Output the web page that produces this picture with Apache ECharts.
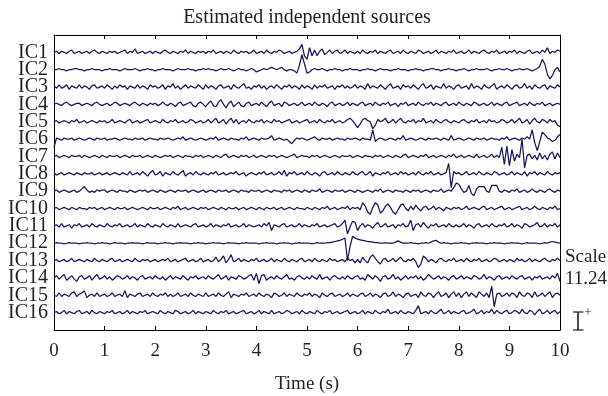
<!DOCTYPE html>
<html><head><meta charset="utf-8">
<script src="https://cdn.jsdelivr.net/npm/echarts@6/dist/echarts.min.js"></script>
<style>html,body{margin:0;padding:0;background:#fff}#c{width:608px;height:396px}</style>
</head><body><div id="c"></div>
<script>
// ---- data ----
const channelNames = ['IC1','IC2','IC3','IC4','IC5','IC6','IC7','IC8','IC9','IC10','IC11','IC12','IC13','IC14','IC15','IC16'];
const sampleStep = 0.05; // seconds between samples, 0 .. 10 s
const titleText = 'Estimated independent sources';
const xName = 'Time (s)';
const scaleLabel = ['Scale', '11.24'];

const IC1 = [0,1,-1,1,0,-1,1,2,-1,0,1,-1,0,1,-1,1,2,0,-1,1,
0,-1,1,0,1,-1,0,1,2,-1,1,0,3,-1,0,1,-1,0,1,-1,
1,0,-1,1,2,0,-1,1,0,-1,1,0,2,-1,1,0,-1,1,0,1,
-1,1,0,2,-1,0,1,-1,1,0,-1,2,0,-1,1,0,1,-1,0,2,
-1,0,1,-1,2,0,-1,1,0,2,1,-1,0,1,-1,0,1,3,7,-3,
-6,4,-3,2,-3,1,3,-2,0,2,-1,1,2,-1,0,2,-1,1,0,-1,
1,-1,2,0,-1,1,0,2,-1,1,0,-1,1,2,-1,0,1,-1,2,0,
-1,1,0,-1,2,1,-1,0,1,-1,0,2,-1,1,0,-1,1,0,2,-1,
0,1,-1,0,2,-1,1,0,-1,1,2,0,-1,1,0,2,-1,0,1,-1,
1,0,2,-1,1,0,-1,1,2,-1,0,1,-1,2,0,4,-1,1,0,2,1];
const IC2 = [0,0,1,0,0,-1,0,0,1,1,0,0,-1,0,0,1,0,0,0,-1,
0,0,1,0,0,0,-1,0,1,0,0,0,1,0,-1,0,0,1,0,0,
-1,0,0,1,0,0,0,-1,0,1,0,0,0,1,0,0,-1,0,0,1,
0,1,0,0,-1,0,1,0,0,1,0,-1,0,1,0,0,-1,0,1,0,
-2,-1,0,1,0,1,2,1,0,1,2,0,-1,0,0,-1,-3,4,13,5,
-3,-2,0,1,0,0,1,0,-1,0,0,1,0,0,-1,0,0,1,0,0,
0,-1,0,0,1,0,0,-1,0,1,0,0,0,-1,0,0,1,0,0,0,
-1,0,0,1,0,0,-1,0,0,1,1,0,0,-1,0,0,1,0,0,-1,
0,0,1,0,-1,0,0,1,0,0,0,1,0,-1,0,0,1,0,0,1,
0,-1,0,0,1,0,0,1,0,-1,0,1,3,9,5,-4,-8,-5,0,2,-2];
const IC3 = [1,-1,2,-1,0,2,-2,1,0,-1,2,-1,1,0,-2,1,2,-1,0,1,
-1,2,0,-2,1,-1,2,0,1,-2,1,0,-1,2,-1,1,0,-2,2,0,
1,-1,0,2,-2,1,0,3,-1,1,-2,0,2,-1,1,0,-1,2,0,-2,
2,-1,1,0,-2,1,2,-1,0,1,-2,2,0,-1,1,3,-1,0,-2,1,
0,2,-1,1,-2,0,1,-1,2,0,-2,1,0,2,-1,1,0,-2,2,-1,
1,0,-2,2,-1,1,0,2,-1,0,1,-2,1,0,2,-1,1,-1,0,2,
-1,1,0,-2,3,-1,1,0,-1,2,0,-2,1,3,-1,0,1,-2,2,0,
1,-1,2,0,-2,1,3,-1,0,2,-2,1,0,-1,3,-1,1,0,-2,1,
2,-1,0,1,-2,3,-1,1,0,-2,2,0,-1,1,3,-2,0,1,-1,2,
0,-2,1,2,-1,0,3,-1,1,-2,2,0,-1,1,2,-2,1,0,-1,2,0];
const IC4 = [0,1,0,-1,1,2,0,-1,0,1,1,-1,0,1,0,-1,1,2,0,-1,
0,1,-1,0,2,1,-1,0,1,0,-1,1,2,0,-1,1,0,-1,1,0,
1,-1,0,2,0,-1,1,0,-2,1,2,-1,0,1,2,-1,-2,1,2,0,
-2,1,3,-1,-2,2,4,0,-3,1,3,-2,0,2,-1,-2,1,2,-1,0,
1,-1,2,0,-2,1,3,-1,0,1,-2,2,1,-1,0,1,-1,0,2,-1,
0,1,-1,2,0,-1,1,0,-2,1,2,-1,0,1,-1,0,2,-1,1,0,
-1,1,2,-1,0,1,-1,2,0,-1,1,0,2,-1,0,1,-2,1,0,2,
-1,0,1,-1,2,0,-1,1,0,2,-1,1,0,-1,1,2,-1,0,1,-1,
2,0,-1,1,0,-1,2,1,-1,0,1,-1,0,2,-1,1,0,-1,1,2,
-1,0,1,2,-1,0,1,-1,2,0,-1,1,0,2,-1,0,1,-1,0,1,0];
const IC5 = [0,1,-1,0,1,0,-1,1,0,2,-1,0,1,-1,0,1,0,-1,1,0,
1,-1,0,2,-1,0,1,0,-1,1,2,-1,0,1,-1,0,1,2,-1,0,
1,0,-1,2,0,-1,1,0,2,-1,0,1,-1,0,2,1,-1,0,1,-1,
0,2,-1,1,3,-1,0,2,-2,1,3,-1,2,-2,0,1,-1,2,0,-1,
1,0,2,-1,1,0,-1,2,0,1,-1,0,1,2,-1,0,1,-1,0,1,
2,-1,0,1,-1,2,0,-1,1,0,2,-1,0,1,-1,0,2,3,1,-2,
-5,-2,2,3,1,0,-6,-3,2,0,1,3,-1,0,2,-1,1,3,0,-1,
1,0,2,-1,1,0,3,-1,0,1,-1,2,0,-1,1,2,0,-1,1,0,
-1,1,2,0,-1,1,0,2,-1,0,1,-1,2,0,1,-1,0,2,1,-1,
0,2,-1,1,3,-1,0,2,-2,1,3,0,-1,2,1,-1,2,0,1,-3,-4];
const IC6 = [-7,1,0,-1,1,0,0,1,-1,0,1,0,-1,0,1,0,-1,1,0,0,
1,-1,0,0,1,0,-1,0,1,0,0,-1,1,0,0,1,-1,0,1,0,
0,-1,1,0,0,1,0,-1,0,1,0,2,-1,0,1,0,-1,0,1,0,
-1,0,1,0,2,-1,0,1,0,-1,1,0,0,-1,1,0,2,-1,0,1,
0,-1,1,0,0,1,3,-1,0,1,0,-1,0,-2,-4,-1,1,0,1,0,
-1,0,1,2,0,-1,1,0,0,1,-1,0,1,0,0,-1,1,0,0,1,
0,-1,1,0,0,-1,8,-2,0,1,0,-1,0,1,0,-1,1,0,3,-1,
0,1,0,-1,0,1,0,-1,1,0,0,1,0,-1,1,0,-1,3,-1,0,
1,0,-1,0,1,0,-1,1,0,0,1,-1,0,1,0,0,-1,1,0,2,
-1,0,1,0,-1,1,0,2,0,8,-3,-10,-2,6,4,1,0,-2,-1,2,4];
const IC7 = [0,1,-1,0,1,0,-1,1,0,0,1,-1,1,0,-1,0,1,0,-1,1,
0,-1,1,0,0,1,-1,0,1,0,-1,1,0,0,1,-1,0,1,0,-1,
1,0,-1,0,1,0,1,-1,0,1,0,-1,1,0,0,-1,1,0,1,-1,
0,1,0,-1,1,0,-1,1,2,-1,0,1,0,-1,1,0,1,-1,0,1,
-1,0,1,0,-1,1,0,1,-1,0,1,0,-1,0,1,2,-1,0,1,0,
0,-1,1,0,1,-1,0,1,0,-1,0,1,0,-1,1,0,0,1,-1,0,
1,0,-1,1,0,0,-1,1,0,1,-1,0,1,0,-1,1,0,-1,1,2,
-1,0,1,0,-1,1,0,2,-1,0,1,-1,0,1,0,-1,1,0,2,-1,
0,1,-1,0,1,0,-1,2,-1,0,1,-1,0,2,-1,1,-1,8,-7,9,
-8,6,-4,2,-1,15,-10,1,2,-2,1,-3,3,-2,1,-3,2,4,-2,3,-1];
const IC8 = [1,-1,0,1,-1,0,1,0,-1,1,0,-1,1,0,0,1,-1,0,1,-1,
0,1,-1,0,1,0,-1,1,0,-1,2,-1,0,1,-1,2,0,-2,1,3,
-1,0,2,-2,1,0,-1,2,0,-1,1,3,-2,0,1,-1,2,0,-1,1,
0,-1,1,0,2,-1,0,1,-1,0,1,0,2,-1,0,1,-2,0,1,0,
-1,1,0,2,-1,0,1,-1,0,2,-1,3,-2,1,0,2,-1,0,1,-1,
2,0,-1,1,0,-2,1,2,-1,0,1,-1,2,0,-1,1,0,-1,2,0,
-1,1,2,-1,0,2,-2,1,0,-1,1,0,2,-1,0,1,-1,2,0,1,
-1,0,1,-1,2,0,-1,1,0,2,-1,0,1,-1,0,1,9,-12,2,0,
1,-1,0,2,-1,0,1,-1,2,0,-1,1,0,-1,2,1,-1,0,1,-1,
0,2,-1,1,0,-1,2,-2,1,0,2,-1,1,0,-1,2,0,-1,1,0,1];
const IC9 = [0,1,-1,0,1,0,-1,0,1,-1,0,2,4,1,-1,0,-1,1,0,1,
1,-1,0,1,0,-1,1,0,0,-1,1,0,-1,0,1,0,1,-1,0,1,
0,-1,1,0,-1,0,1,0,-1,1,0,0,1,-1,0,1,0,-1,0,1,
-1,0,1,0,-1,1,0,0,1,-1,0,1,0,-1,1,0,0,-1,1,0,
0,1,-1,0,1,0,-1,1,0,0,-1,1,0,1,-1,0,1,0,-1,1,
0,-1,1,0,0,2,-1,0,1,0,-1,1,0,0,1,-1,0,1,0,-1,
1,0,-1,0,1,0,-1,1,0,2,-1,0,1,0,-1,1,0,0,-1,1,
0,-1,1,0,1,-1,0,1,0,-1,1,0,0,2,-1,0,1,0,3,7,
6,2,-1,0,5,-2,-4,2,4,4,4,0,-1,5,5,5,0,-1,1,0,
-1,1,0,2,-1,0,1,-1,0,2,0,-1,1,0,-1,1,2,0,-1,1,0];
const IC10 = [0,1,-1,0,1,0,-1,1,0,-1,1,0,0,-1,1,0,1,-1,0,1,
-1,0,1,0,-1,1,0,0,1,-1,0,1,0,-1,0,1,0,-1,1,0,
0,1,-1,0,1,0,-1,1,0,2,-1,0,1,-1,0,1,0,-1,1,0,
1,-1,0,1,0,-1,1,0,-1,1,0,0,1,-1,0,1,-1,0,1,0,
-1,1,0,-1,1,0,0,1,-1,0,1,-1,0,1,0,-1,1,0,0,-1,
1,0,-1,1,0,-1,1,0,2,-1,0,1,-1,0,1,0,2,-1,1,0,
1,-1,5,2,-3,-5,1,5,3,-4,-2,2,4,1,-3,-5,-1,3,4,0,
-2,2,-1,3,0,-2,1,2,-1,0,2,-1,1,0,-2,1,0,-1,1,0,
1,-1,0,2,-1,0,1,0,-1,1,2,-1,0,1,-1,0,1,2,-1,0,
1,-1,0,1,2,-1,0,1,-1,0,2,0,-1,1,0,-1,1,0,2,-1,0];
const IC11 = [0,1,-1,2,-1,0,1,-2,1,0,2,-1,0,1,-1,2,0,-1,1,0,
-1,2,0,-1,1,0,2,-1,0,1,-1,0,2,-1,1,0,-1,2,0,-1,
1,0,-1,2,0,-1,1,0,-1,2,-1,0,1,0,-1,1,2,-1,0,1,
-1,0,2,-1,1,0,-1,1,0,2,-1,0,1,-1,0,2,-1,1,0,-1,
0,1,-1,2,0,3,-4,1,0,-1,1,2,-1,0,1,-1,0,2,-1,1,
0,-1,1,0,2,-1,0,1,-1,0,1,2,-1,0,2,5,-7,-1,4,3,
-4,0,2,-1,1,0,-2,1,3,-1,0,2,-1,0,1,-2,1,0,2,-1,
0,5,-4,1,2,-1,3,0,-2,1,0,2,-1,0,1,-1,2,0,-1,1,
-1,0,2,-1,1,0,-2,1,2,-1,0,1,-1,2,0,-1,1,0,2,-1,
0,2,-1,1,0,-2,2,1,-1,0,1,3,-1,0,2,-1,1,0,2,-1,1];
const IC12 = [0,0.5,0,0,-0.5,0,0.5,0,0,0,-0.5,0,0,0.5,0,0,-0.5,0,0,0.5,
0,0,-0.5,0,0.5,0,0,0,-0.5,0,0,0.5,0,0,0,-0.5,0,0.5,0,0,
0,-0.5,0,0,0.5,0,0,-0.5,0,0,0.5,0,0,0,-0.5,0,0,0.5,0,0,
-0.5,0,0,0.5,0,0,0,-0.5,0,0.5,0,0,0,-0.5,0,0,0.5,0,0,0,
0,-0.5,0,0,0.5,0,0,0,-0.5,0,0,0.5,0,0,-0.5,0,0,0.5,0,0,
0,0,-0.5,0,0.5,0,0,0,0.5,0.5,1,1.5,2,2.5,3.5,4.5,-15,-3,6,4.5,
3.5,3,2.5,2,1.5,1.5,1,0.5,0.5,0,0,0.5,0,0,0,1,2,1,0,0,
0,0.5,0,0,-0.5,0,0,0.5,0,1,2,2.5,1,0,0.5,0,0,-0.5,0,0,
0,0.5,0,0,-0.5,0,0,0.5,0,0,0,-0.5,0,0,0.5,0,0,0,-0.5,0,
0,0.5,0,0,0,-0.5,0,0.5,0,0,0,0,-0.5,0,0.5,0,1,1.5,1,0.5,0];
const IC13 = [0,1,-1,0,1,-1,0,2,-1,0,1,0,-1,1,0,-1,2,0,-1,1,
0,-1,1,2,-1,0,1,-1,0,1,0,-1,2,0,-1,1,0,1,-1,0,
1,-1,0,1,0,2,-1,0,1,-1,0,1,2,-1,0,1,-1,0,2,-1,
0,1,-1,0,3,-1,1,4,-2,1,5,-1,0,2,-1,1,0,-1,1,0,
2,-1,0,1,-1,0,2,-1,1,0,-1,2,0,-1,1,0,-1,1,2,-1,
0,1,-1,2,0,-1,1,0,-1,2,0,1,-1,0,1,-1,2,0,1,-2,
1,-2,3,0,-2,3,5,2,-1,-3,1,2,-1,0,2,-1,1,3,0,-1,
1,0,2,-1,-6,-3,4,2,-1,1,0,-2,1,2,0,-1,1,0,2,-1,
0,1,-1,2,0,-1,1,0,2,-1,0,1,-1,0,2,1,-1,0,1,-1,
1,0,-1,2,0,1,-1,0,2,-1,1,0,-1,1,2,0,-1,1,0,2,0];
const IC14 = [0,2,-1,1,3,-2,0,2,-1,-3,1,2,-1,0,2,-2,1,3,-1,0,
2,-1,1,-2,0,2,1,-1,0,2,-1,1,0,-2,1,2,-1,0,1,-1,
2,0,-1,1,-2,0,2,-1,1,0,-1,2,0,-2,1,0,2,-1,0,1,
-1,2,0,-1,1,3,-1,0,2,-2,1,0,-1,2,1,-1,0,2,3,-2,
4,-5,2,3,-2,0,1,-1,2,0,-1,1,3,-1,0,-2,1,2,0,-1,
1,-1,2,0,-1,3,-1,0,1,-2,1,2,0,-1,1,-1,2,0,-1,1,
2,-1,0,-2,3,1,-1,2,0,-3,1,2,-1,0,3,-1,1,-2,0,2,
-1,1,0,2,-1,1,-2,0,3,1,-1,0,2,-1,1,0,-2,1,2,-1,
0,2,-1,1,0,-1,2,1,-1,0,3,-1,1,0,-2,1,2,-1,0,1,
-1,2,0,-1,1,2,-1,0,1,-2,1,0,2,-1,0,1,-1,2,0,4,-3];
const IC15 = [0,-1,2,-1,1,0,-1,2,3,-1,1,2,4,-2,0,1,-1,2,-1,0,
1,-1,0,2,-1,0,1,-1,4,-2,1,0,-1,1,2,-1,0,1,-1,2,
0,-1,1,0,2,-1,1,-1,0,2,-1,0,1,-1,2,0,-1,1,0,-1,
2,-1,0,1,-1,2,0,-1,1,3,-2,1,0,-1,1,0,2,-1,0,1,
-1,2,0,-1,1,0,-2,2,1,-1,0,2,-1,1,0,-1,2,0,-1,1,
0,2,-1,1,0,-2,2,0,-1,1,2,-1,0,1,-1,0,2,-1,1,0,
-1,1,2,-1,0,2,-1,1,0,-2,1,2,-1,0,3,-1,1,0,-2,1,
2,-1,0,1,-2,3,0,-1,2,1,-2,1,3,-1,0,2,-2,1,3,-1,
2,-2,1,3,-1,2,0,-2,3,1,-1,2,-2,8,-10,1,2,-1,0,2,
-1,2,1,-2,3,0,-1,2,1,-2,3,-1,0,2,-1,1,3,-2,1,2,0];
const IC16 = [0,1,-1,0,2,-1,1,0,-1,1,2,-1,0,1,-1,2,0,-1,1,0,
-1,1,0,2,-1,0,1,-1,0,2,-1,1,0,-1,1,0,2,-1,0,1,
0,-1,2,0,-1,1,0,-1,2,1,-1,0,1,-1,0,2,-1,1,0,-1,
1,0,-1,2,0,-1,1,0,2,-1,0,1,-1,0,1,2,-1,0,1,-1,
0,2,-1,1,0,-1,2,-1,0,1,-1,0,2,1,-1,0,1,-1,2,0,
-1,1,0,-1,2,0,-1,1,0,2,-1,0,1,-1,0,1,2,-1,0,1,
-1,0,2,-1,1,0,-1,2,0,-1,1,0,3,-1,0,1,-1,2,0,-1,
1,0,-1,2,6,-1,0,1,-1,2,0,-1,1,3,-1,0,2,-1,1,0,
-1,1,2,-1,0,1,3,-1,0,2,-1,1,0,3,-1,2,0,-1,1,2,
-1,0,2,1,-1,3,0,-1,2,1,-2,1,3,-1,0,2,-1,1,2,-1,1];

const traces = [IC1,IC2,IC3,IC4,IC5,IC6,IC7,IC8,IC9,IC10,IC11,IC12,IC13,IC14,IC15,IC16];
traces.forEach((t,k)=>{ if (t.length !== 201) throw new Error(channelNames[k] + ' has ' + t.length + ' samples'); });

// amplitude units -> trace-spacing units
const gain = 1.15 / 17.35;
const nCh = channelNames.length;
const serif = '"Liberation Serif", "DejaVu Serif", serif';
const ink = '#231f20';
const lineColor = '#15155f';

const series = traces.map((vals, k) => ({
  name: channelNames[k],
  type: 'line',
  data: vals.map((v, i) => [Math.round(i * sampleStep * 1000) / 1000, (nCh - k) + v * gain]),
  showSymbol: false,
  symbol: 'none',
  silent: true,
  lineStyle: { color: lineColor, width: 1.25 },
  animation: false
}));

const chart = echarts.init(document.getElementById('c'), null, { renderer: 'canvas' });
chart.setOption({
  animation: false,
  backgroundColor: '#fff',
  grid: { left: 54, right: 48, top: 35, bottom: 66, containLabel: false, outerBoundsMode: 'none' },
  xAxis: [
    { type: 'value', position: 'bottom', min: 0, max: 10, interval: 1,
      axisLine: { show: true, onZero: false, lineStyle: { color: '#000', width: 1 } },
      axisTick: { show: true, inside: true, length: 4, lineStyle: { color: '#000' } },
      splitLine: { show: false },
      axisLabel: { fontFamily: serif, fontSize: 19, color: ink, margin: 12 },
      name: xName, nameLocation: 'middle', nameGap: 45,
      nameTextStyle: { fontFamily: serif, fontSize: 19, color: ink } },
    { type: 'value', position: 'top', min: 0, max: 10, interval: 1,
      axisLine: { show: true, onZero: false, lineStyle: { color: '#000', width: 1 } },
      axisTick: { show: true, inside: true, length: 4, lineStyle: { color: '#000' } },
      splitLine: { show: false }, axisLabel: { show: false } }
  ],
  yAxis: [
    { type: 'value', position: 'left', min: 0, max: nCh + 1, interval: 1,
      axisLine: { show: true, onZero: false, lineStyle: { color: '#000', width: 1 } },
      axisTick: { show: false }, splitLine: { show: false },
      axisLabel: { fontFamily: serif, fontSize: 20, color: ink, margin: 6,
        formatter: v => (v >= 1 && v <= nCh) ? channelNames[nCh - v] : '' } },
    { type: 'value', position: 'right', min: 0, max: nCh + 1, interval: 1,
      axisLine: { show: true, onZero: false, lineStyle: { color: '#000', width: 1 } },
      axisTick: { show: false }, splitLine: { show: false }, axisLabel: { show: false } }
  ],
  series: series,
  graphic: [
    { type: 'text', x: 307, y: 18, style: { text: titleText, fontFamily: serif, fontSize: 20, fill: ink, textAlign: 'center', textVerticalAlign: 'middle' } },
    { type: 'text', x: 565, y: 257, style: { text: scaleLabel[0], fontFamily: serif, fontSize: 19, fill: ink, textAlign: 'left', textVerticalAlign: 'middle' } },
    { type: 'text', x: 565, y: 279, style: { text: scaleLabel[1], fontFamily: serif, fontSize: 19, fill: ink, textAlign: 'left', textVerticalAlign: 'middle' } },
    { type: 'line', shape: { x1: 578, y1: 312, x2: 578, y2: 330 }, style: { stroke: ink, lineWidth: 1.6 } },
    { type: 'line', shape: { x1: 573, y1: 312, x2: 583.5, y2: 312 }, style: { stroke: ink, lineWidth: 1.2 } },
    { type: 'line', shape: { x1: 573, y1: 330, x2: 583.5, y2: 330 }, style: { stroke: ink, lineWidth: 1.2 } },
    { type: 'text', x: 588, y: 313, style: { text: '+', fontFamily: serif, fontSize: 13, fill: ink, textAlign: 'center', textVerticalAlign: 'middle' } }
  ]
});
</script>
</body></html>
